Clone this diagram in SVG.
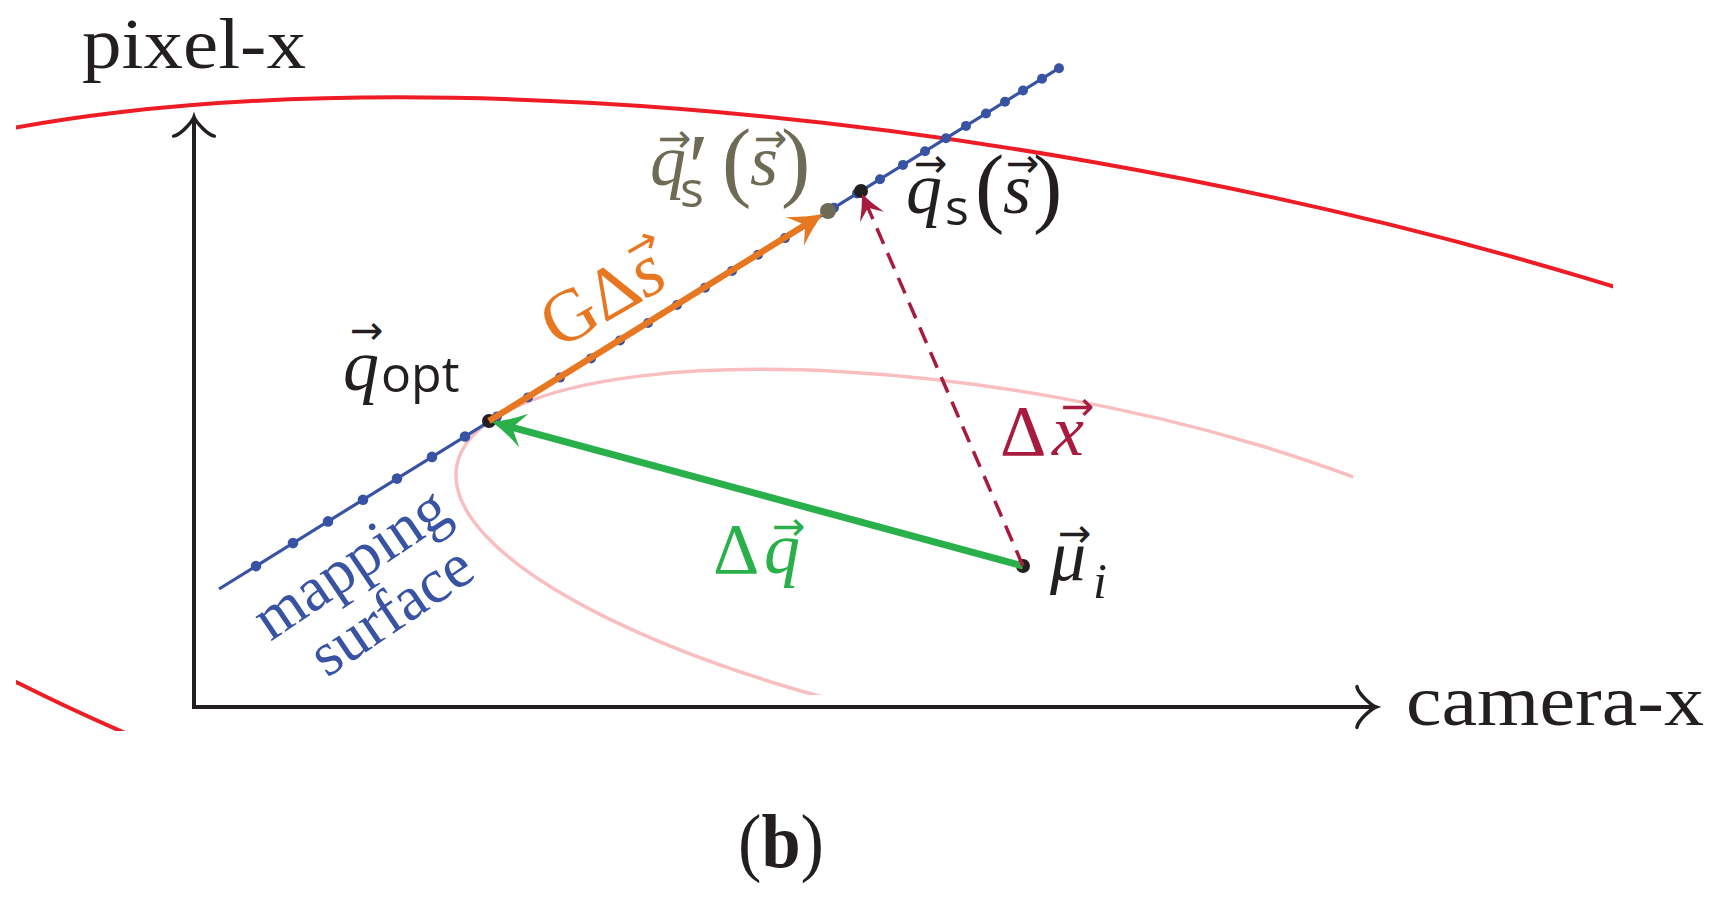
<svg xmlns="http://www.w3.org/2000/svg" width="1722" height="900" viewBox="0 0 1722 900">
<style>
.serif{font-family:"Liberation Serif","Times New Roman",serif;}
.it{font-style:italic;}
.sans{font-family:"Open Sans","Liberation Sans",sans-serif;}
.vec{font-family:"DejaVu Sans",sans-serif;font-size:40px;}
.k{fill:#231F20;}
.ol{fill:#6E6B55;}
.bl{fill:#3953A4;}
.or{fill:#E87722;}
.gr{fill:#2AB04A;}
.dr{fill:#A81A3E;}
.dot{fill:#3953A4;}
</style>
<defs>
<clipPath id="clipRed"><rect x="16" y="0" width="1597" height="731"/></clipPath>
<clipPath id="clipPink"><rect x="0" y="0" width="1353" height="695"/></clipPath>
<marker id="headOrange" markerUnits="userSpaceOnUse" orient="auto" refX="0" refY="0" markerWidth="60" markerHeight="60" overflow="visible"><path d="M20,0 Q4,-6 -13,-17 L-1,0 L-13,17 Q4,6 20,0 Z" fill="#E87722"/></marker>
<marker id="headGreen" markerUnits="userSpaceOnUse" orient="auto" refX="0" refY="0" markerWidth="60" markerHeight="60" overflow="visible"><path d="M20,0 Q4,-6 -13,-17.5 L-1,0 L-13,17.5 Q4,6 20,0 Z" fill="#2AB04A"/></marker>
<marker id="headRed" markerUnits="userSpaceOnUse" orient="auto" refX="0" refY="0" markerWidth="60" markerHeight="60" overflow="visible"><path d="M14,0 Q2,-5 -11,-13 L-1,0 L-11,13 Q2,5 14,0 Z" fill="#A81A3E"/></marker>
</defs>
<rect x="0" y="0" width="1722" height="900" fill="#FFFFFF"/>

<g id="contours" fill="none">
<g clip-path="url(#clipRed)"><ellipse cx="1023" cy="566" rx="1370" ry="410" transform="rotate(10 1023 566)" stroke="#EE1C25" stroke-width="4"/></g>
<g clip-path="url(#clipPink)"><ellipse cx="1023" cy="566" rx="575" ry="172" transform="rotate(10 1023 566)" stroke="#F9BEC0" stroke-width="3.5"/></g>
</g>

<g id="axes">
<path d="M194,119 L194,707 L1374,707" fill="none" stroke="#231F20" stroke-width="4"/>
<path d="M214.4,136.1 C206.8,134.8 195.3,120.8 194,117 C192.7,120.8 181.2,134.8 173.6,136.1" fill="none" stroke="#231F20" stroke-width="3.5" stroke-linecap="round"/>
<path d="M1356.9,727.4 C1358.2,719.8 1372.2,708.3 1376,707 C1372.2,705.7 1358.2,694.2 1356.9,686.6" fill="none" stroke="#231F20" stroke-width="3.5" stroke-linecap="round"/>
<text class="serif k" x="82" y="68" font-size="72" textLength="224" lengthAdjust="spacingAndGlyphs">pixel-x</text>
<text class="serif k" x="1406" y="725" font-size="72" textLength="298" lengthAdjust="spacingAndGlyphs">camera-x</text>
</g>

<g id="mapping-surface">
<line x1="219" y1="589" x2="1059" y2="68.2" stroke="#3953A4" stroke-width="3.2"/>
<g class="dot">
<circle cx="256" cy="566.1" r="5.3"/><circle cx="293" cy="543.1" r="5.3"/><circle cx="328" cy="521.4" r="5.3"/><circle cx="363" cy="499.7" r="5.3"/><circle cx="397" cy="478.6" r="5.3"/><circle cx="432" cy="456.9" r="5.3"/><circle cx="465" cy="436.5" r="5.3"/><circle cx="497" cy="416.6" r="5"/><circle cx="528" cy="397.4" r="5"/><circle cx="560" cy="377.6" r="5"/><circle cx="591" cy="358.4" r="5"/><circle cx="620" cy="340.4" r="5"/><circle cx="648" cy="323" r="5"/><circle cx="677" cy="305" r="5"/><circle cx="705" cy="287.7" r="5"/><circle cx="732" cy="270.9" r="5"/><circle cx="758" cy="254.8" r="5"/><circle cx="785" cy="238.1" r="5"/><circle cx="811" cy="222" r="5"/><circle cx="834" cy="207.7" r="5"/><circle cx="857" cy="193.4" r="5"/><circle cx="880" cy="179.2" r="5"/><circle cx="903" cy="164.9" r="5"/><circle cx="925" cy="151.3" r="5"/><circle cx="946" cy="138.3" r="5"/><circle cx="966" cy="125.9" r="5"/><circle cx="986" cy="113.5" r="5"/><circle cx="1005" cy="101.7" r="5"/><circle cx="1023" cy="90.5" r="5"/><circle cx="1042" cy="78.7" r="5"/><circle cx="1059" cy="68.2" r="5"/>
</g>
<g transform="translate(362,580) rotate(-34)">
<text class="serif bl" font-size="63" text-anchor="middle"><tspan x="0" y="0">mapping</tspan><tspan x="7" y="62">surface</tspan></text>
</g>
</g>

<g id="node-q-opt">
<circle cx="489" cy="421" r="7" fill="#231F20"/>
<text class="k"><tspan class="serif it" x="343" y="390" font-size="72">q</tspan><tspan class="vec" x="350" y="344">→</tspan><tspan class="sans" x="381" y="392" font-size="50">opt</tspan></text>
</g>

<g id="node-q-s">
<circle cx="861" cy="191" r="7" fill="#231F20"/>
<text class="k"><tspan class="serif it" x="906" y="213" font-size="72">q</tspan><tspan class="vec" x="914" y="177">→</tspan><tspan class="sans" x="945" y="225" font-size="50">s</tspan><tspan class="serif" x="975" y="216" font-size="88">(</tspan><tspan class="serif it" x="1003" y="213" font-size="72">s</tspan><tspan class="vec" x="1006" y="177">→</tspan><tspan class="serif" x="1033" y="216" font-size="88">)</tspan></text>
</g>

<g id="node-q-s-prime">
<circle cx="828" cy="211" r="8" fill="#6E6B55"/>
<text class="ol"><tspan class="serif it" x="650" y="185" font-size="72">q</tspan><tspan class="vec" x="658" y="152">→</tspan><tspan class="serif" x="688" y="200" font-size="96">′</tspan><tspan class="sans" x="680" y="207" font-size="50">s</tspan><tspan class="serif" x="722" y="190" font-size="88">(</tspan><tspan class="serif it" x="750" y="185" font-size="72">s</tspan><tspan class="vec" x="754" y="152">→</tspan><tspan class="serif" x="781" y="190" font-size="88">)</tspan></text>
</g>

<g id="node-mu">
<circle cx="1023" cy="566" r="7" fill="#231F20"/>
<text class="k"><tspan class="serif it" x="1050" y="580" font-size="72">μ</tspan><tspan class="vec" x="1058" y="547">→</tspan><tspan class="serif it" x="1093" y="598" font-size="50">i</tspan></text>
</g>

<g id="connectors">
<line x1="489" y1="421" x2="806" y2="224.5" stroke="#E87722" stroke-width="6.5" marker-end="url(#headOrange)"/>
<line x1="1023" y1="566" x2="511.3" y2="427.2" stroke="#2AB04A" stroke-width="7" marker-end="url(#headGreen)"/>
<line x1="1023" y1="566" x2="867.6" y2="206.9" stroke="#A81A3E" stroke-width="3.5" stroke-dasharray="17 10" marker-end="url(#headRed)"/>
<g transform="translate(558,350) rotate(-30)">
<text class="or"><tspan class="serif" x="0" y="0" font-size="74">GΔ</tspan><tspan class="serif it" font-size="74">s</tspan><tspan class="vec" x="108" y="-37">→</tspan></text>
</g>
<text class="gr"><tspan class="serif" x="713" y="573" font-size="72">Δ</tspan><tspan class="serif it" x="764" y="573" font-size="72">q</tspan><tspan class="vec" x="772" y="540">→</tspan></text>
<text class="dr"><tspan class="serif" x="1000" y="455" font-size="72">Δ</tspan><tspan class="serif it" x="1052" y="455" font-size="72">x</tspan><tspan class="vec" x="1061" y="420">→</tspan></text>
</g>

<g id="caption">
<text class="serif k" x="738" y="867" font-size="76" textLength="86" lengthAdjust="spacingAndGlyphs">(<tspan font-weight="bold">b</tspan>)</text>
</g>
</svg>
